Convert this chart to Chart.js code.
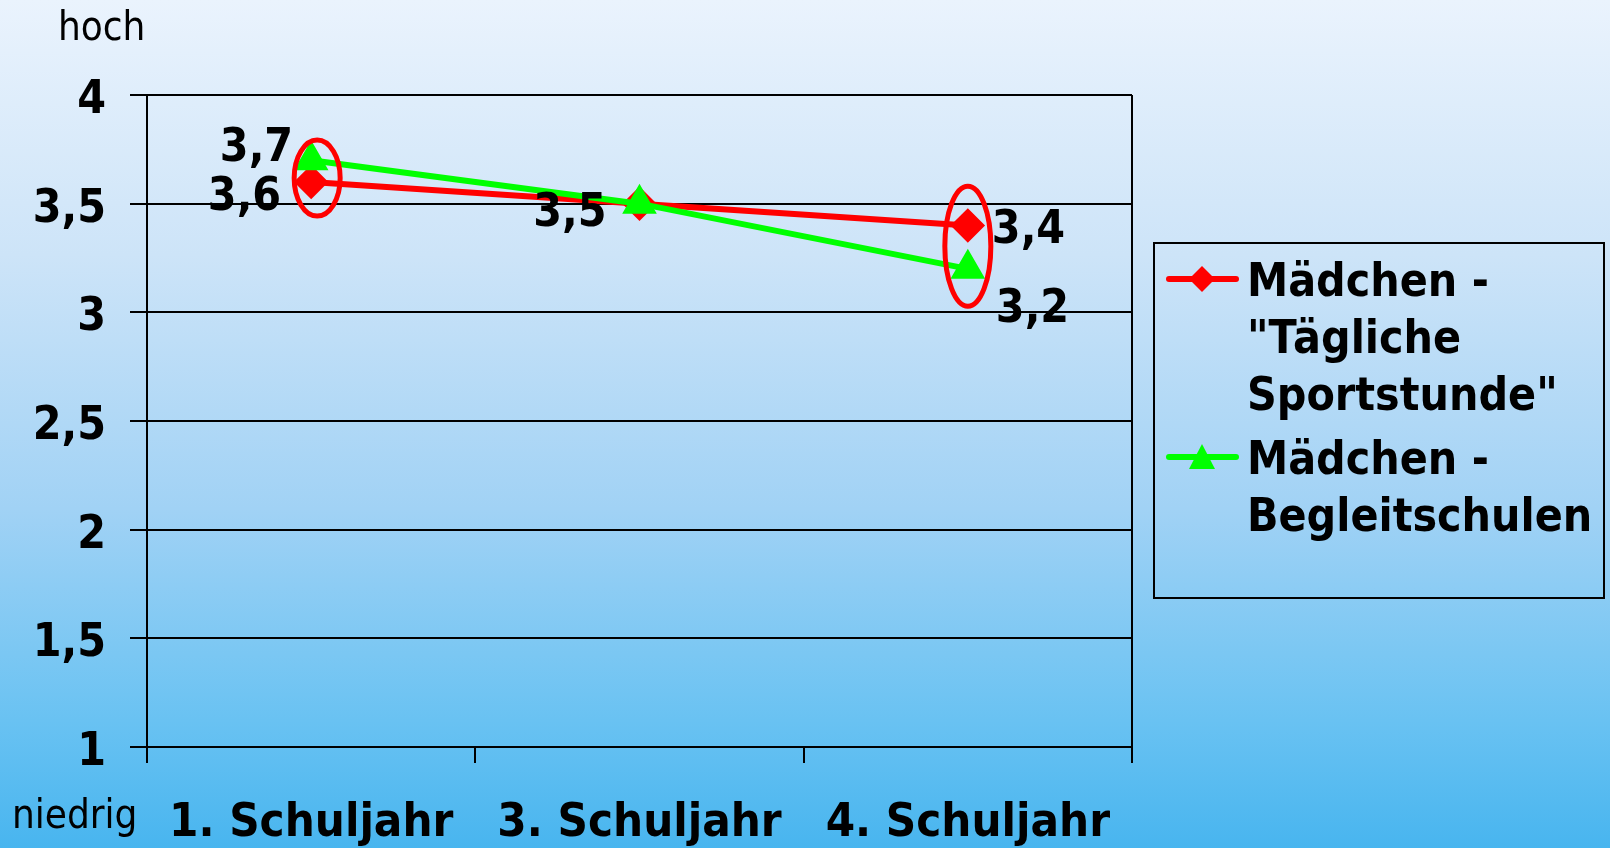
<!DOCTYPE html>
<html lang="de">
  <head>
    <meta charset="UTF-8" />
    <title>Mädchen - Schuljahre</title>
    <script src="https://cdn.jsdelivr.net/npm/chart.js"></script>
    <style>
      html, body { margin: 0; padding: 0; }
      body {
        width: 1610px;
        height: 848px;
        overflow: hidden;
        background: linear-gradient(to bottom, #eaf3fd 0%, #cde4f8 30%, #a1d2f5 60%, #69c2f2 85%, #48b5ef 100%);
      }
      #wrap { position: relative; width: 1610px; height: 848px; }
    </style>
  </head>
  <body>
    <div id="wrap">
      <canvas id="chart" width="1610" height="848"></canvas>
    </div>
    <script>
      // data
      const categories = ["1. Schuljahr", "3. Schuljahr", "4. Schuljahr"];
      const taeglicheSport = [3.6, 3.5, 3.4];
      const begleitschulen = [3.7, 3.5, 3.2];
      const legendRed = ["Mädchen -", "\"Tägliche", "Sportstunde\""];
      const legendGreen = ["Mädchen -", "Begleitschulen"];
      const yMin = 1, yMax = 4, yStep = 0.5;

      const FONT = "'DejaVu Sans Condensed', 'DejaVu Sans', sans-serif";
      const fmt = (v) => String(v).replace(".", ",");

      // value labels, ellipses, axis notes, frame and legend
      const extras = {
        id: "extras",
        afterDatasetsDraw(chart) {
          const ctx = chart.ctx;
          const x = chart.scales.x, y = chart.scales.y;
          const area = chart.chartArea;
          ctx.save();

          // right border of plot
          ctx.strokeStyle = "#000";
          ctx.lineWidth = 2;
          ctx.beginPath();
          ctx.moveTo(area.right, area.top);
          ctx.lineTo(area.right, area.bottom + 16);
          ctx.stroke();

          // red ellipses
          ctx.strokeStyle = "#ff0000";
          ctx.lineWidth = 5;
          const e1x = x.getPixelForValue(0) + 6;
          const e1y = (y.getPixelForValue(begleitschulen[0]) + y.getPixelForValue(taeglicheSport[0])) / 2 + 7;
          ctx.beginPath();
          ctx.ellipse(e1x, e1y, 23, 38, 0, 0, Math.PI * 2);
          ctx.stroke();
          const e2x = x.getPixelForValue(2);
          const e2y = (y.getPixelForValue(begleitschulen[2]) + y.getPixelForValue(taeglicheSport[2])) / 2 - 1;
          ctx.beginPath();
          ctx.ellipse(e2x, e2y, 23, 60, 0, 0, Math.PI * 2);
          ctx.stroke();

          // value labels
          ctx.fillStyle = "#000";
          ctx.font = "bold 46px " + FONT;
          ctx.textBaseline = "middle";
          const lab = (val, i, dx, dy, align) => {
            ctx.textAlign = align;
            ctx.fillText(fmt(val), x.getPixelForValue(i) + dx, y.getPixelForValue(val) + dy);
          };
          lab(begleitschulen[0], 0, -18, -11, "right");
          lab(taeglicheSport[0], 0, -30, 16, "right");
          lab(taeglicheSport[1], 1, -33, 10, "right");
          lab(taeglicheSport[2], 2, 24, 6, "left");
          lab(begleitschulen[2], 2, 28, 41, "left");

          // axis notes
          ctx.font = "40px " + FONT;
          ctx.textAlign = "left";
          ctx.fillText("hoch", 58, 30);
          ctx.fillText("niedrig", 12, 818);

          // legend
          ctx.strokeStyle = "#000";
          ctx.lineWidth = 2;
          ctx.strokeRect(1154, 243, 450, 355);
          const item = (lines, color, shape, y0) => {
            ctx.strokeStyle = color;
            ctx.fillStyle = color;
            ctx.lineWidth = 6;
            ctx.lineCap = "round";
            ctx.beginPath();
            ctx.moveTo(1169, y0);
            ctx.lineTo(1236, y0);
            ctx.stroke();
            ctx.beginPath();
            if (shape === "diamond") {
              ctx.moveTo(1202, y0 - 13);
              ctx.lineTo(1215, y0);
              ctx.lineTo(1202, y0 + 13);
              ctx.lineTo(1189, y0);
            } else {
              ctx.moveTo(1202, y0 - 13);
              ctx.lineTo(1215, y0 + 12);
              ctx.lineTo(1189, y0 + 12);
            }
            ctx.closePath();
            ctx.fill();
            ctx.fillStyle = "#000";
            ctx.font = "bold 46px " + FONT;
            ctx.textAlign = "left";
            lines.forEach((t, k) => ctx.fillText(t, 1247, y0 + 5 + k * 57));
          };
          item(legendRed, "#ff0000", "diamond", 279);
          item(legendGreen, "#00ff00", "triangle", 457);

          ctx.restore();
        },
      };

      new Chart(document.getElementById("chart"), {
        type: "line",
        data: {
          labels: categories,
          datasets: [
            {
              label: legendRed.join(" "),
              data: taeglicheSport,
              order: 1,
              borderColor: "#ff0000",
              backgroundColor: "#ff0000",
              borderWidth: 6,
              pointStyle: "rectRot",
              pointRadius: 13,
              pointHoverRadius: 13,
              tension: 0,
            },
            {
              label: legendGreen.join(" "),
              data: begleitschulen,
              order: 0,
              borderColor: "#00ff00",
              backgroundColor: "#00ff00",
              borderWidth: 6,
              pointStyle: "triangle",
              pointRadius: 14,
              pointHoverRadius: 14,
              tension: 0,
            },
          ],
        },
        options: {
          responsive: false,
          animation: false,
          events: [],
          layout: { padding: { top: 95, right: 478, bottom: 0, left: 0 } },
          plugins: { legend: { display: false }, tooltip: { enabled: false } },
          scales: {
            x: {
              offset: true,
              afterFit: (s) => { s.height = 101; },
              grid: {
                offset: true,
                drawOnChartArea: false,
                drawTicks: true,
                tickLength: 16,
                color: "#000",
                lineWidth: 2,
              },
              border: { color: "#000", width: 2 },
              ticks: {
                color: "#000",
                padding: 33,
                font: { family: FONT, size: 47, weight: "bold" },
              },
            },
            y: {
              min: yMin,
              max: yMax,
              afterFit: (s) => { s.width = 147; },
              grid: { color: "#000", lineWidth: 2, tickLength: 17 },
              border: { color: "#000", width: 2 },
              ticks: {
                stepSize: yStep,
                color: "#000",
                padding: 24,
                labelOffset: 6,
                font: { family: FONT, size: 46, weight: "bold" },
                callback: (v) => fmt(v),
              },
            },
          },
        },
        plugins: [extras],
      });
    </script>
  </body>
</html>
